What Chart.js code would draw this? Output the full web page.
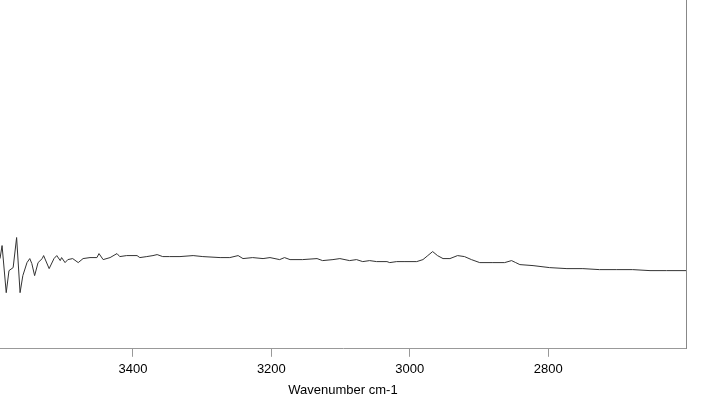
<!DOCTYPE html>
<html>
<head>
<meta charset="utf-8">
<script src="https://cdn.jsdelivr.net/npm/chart.js@4"></script>
<style>
  html, body { margin: 0; padding: 0; background: #fff; }
  #wrap { width: 707px; height: 404px; }
</style>
</head>
<body>
<div id="wrap"><canvas id="myChart"></canvas></div>
<script>
// wavenumbers (cm-1), left to right
const wavenumber = [3592,3589,3583,3579,3573,3568,3563,3559,3553,3549,3546,3542,3537,3531,3529,3521,3514,3510,3505,3503,
  3498,3494,3487,3479,3472,3462,3452,3449,3443,3433,3423,3419,3409,3394,3390,3380,3371,3365,3357,3347,
  3332,3313,3299,3274,3260,3248,3241,3227,3212,3202,3188,3181,3173,3155,3134,3126,3111,3101,3087,3077,
  3068,3058,3048,3033,3029,3019,3007,2990,2981,2974,2967,2960,2952,2942,2931,2921,2911,2899,2880,2863,
  2853,2847,2841,2822,2798,2773,2750,2726,2701,2678,2653,2629,2601];
// absorbance (arbitrary units)
const absorbance = [0.90,1.03,0.56,0.78,0.81,1.11,0.56,0.73,0.86,0.90,0.85,0.73,0.86,0.90,0.93,0.80,0.90,0.93,0.88,0.91,
  0.86,0.89,0.90,0.86,0.90,0.91,0.91,0.95,0.89,0.91,0.95,0.92,0.93,0.93,0.91,0.92,0.93,0.94,0.92,0.92,
  0.92,0.93,0.92,0.91,0.91,0.93,0.90,0.91,0.90,0.91,0.89,0.91,0.89,0.89,0.90,0.88,0.89,0.90,0.88,0.89,
  0.87,0.88,0.87,0.87,0.86,0.87,0.87,0.87,0.89,0.93,0.97,0.93,0.90,0.90,0.93,0.92,0.89,0.86,0.86,0.86,
  0.88,0.86,0.84,0.83,0.81,0.80,0.80,0.79,0.79,0.79,0.78,0.78,0.78];
const tickValues = [3400, 3200, 3000, 2800];

const points = wavenumber.map((w, i) => ({ x: w, y: absorbance[i] }));

const ctx = document.getElementById('myChart').getContext('2d');
const myChart = new Chart(ctx, {
  type: 'line',
  data: {
    datasets: [{
      data: points,
      borderColor: '#333',
      borderWidth: 1,
      pointRadius: 0,
      tension: 0,
      fill: false
    }]
  },
  options: {
    animation: false,
    responsive: true,
    maintainAspectRatio: false,
    layout: { padding: { left: 0, right: 21, top: 0, bottom: 6 } },
    plugins: { legend: { display: false }, tooltip: { enabled: false } },
    scales: {
      x: {
        type: 'linear',
        reverse: true,
        min: 2601,
        max: 3592,
        border: { color: '#999', width: 1 },
        grid: { drawOnChartArea: false, color: '#999', tickLength: 8 },
        afterBuildTicks: (axis) => { axis.ticks = tickValues.map(v => ({ value: v })); },
        ticks: {
          color: '#000',
          font: { family: 'Liberation Sans', size: 13 },
          padding: 5,
          maxRotation: 0,
          callback: (v) => String(v)
        },
        title: {
          display: true,
          text: 'Wavenumber cm-1',
          color: '#000',
          font: { family: 'Liberation Sans', size: 13 },
          padding: { top: 0, bottom: 0 }
        }
      },
      y: {
        position: 'right',
        min: 0,
        max: 3.48,
        border: { display: true, color: '#888', width: 1 },
        grid: { display: false, drawTicks: false },
        ticks: { display: false }
      }
    }
  }
});
</script>
</body>
</html>
